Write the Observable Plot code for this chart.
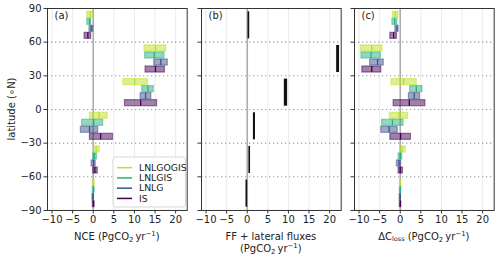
<!DOCTYPE html>
<html>
<head>
<meta charset="utf-8">
<script src="https://cdn.jsdelivr.net/npm/d3@7"></script>
<script src="https://cdn.jsdelivr.net/npm/@observablehq/plot@0.6"></script>
<style>
  html, body { margin: 0; padding: 0; background: white; }
  #chart { position: relative; width: 500px; height: 259px; overflow: hidden; font-family: "DejaVu Sans", sans-serif; }
  #chart svg { position: absolute; top: 0; }
</style>
</head>
<body>
<div id="chart"></div>
<script>
// ---------- data ----------
const models = ["LNLGOGIS", "LNLGIS", "LNLG", "IS"];
const modelColors = ["#bddf26", "#2ab07f", "#3b528b", "#440154"];
const bandLat = [75, 45, 15, -15, -45, -75];      // centre of each 30° latitude band
const xTicks = [-10, -5, 0, 5, 10, 15, 20];
const yTicks = [-90, -60, -30, 0, 30, 60, 90];
const dottedLats = [-60, -30, 0, 30, 60];

// (a) NCE, per model (rows) and band (columns): low / median / high
const nceLow  = [[-1.45, 12.45, 7.3, -0.8, 0.15, -0.1],
                 [-1.45, 12.6, 11.9, -2.7, 0.0, -0.1],
                 [-0.9, 14.8, 11.5, -3.0, -0.4, -0.2],
                 [-2.1, 12.7, 7.7, -0.8, 0.0, -0.1]];
const nceMed  = [[-0.7, 15.1, 10.1, 1.4, 0.7, 0.1],
                 [-0.9, 14.8, 13.3, 0.1, 0.3, 0.1],
                 [-0.5, 16.4, 12.7, -0.9, 0.1, 0.0],
                 [-1.3, 15.1, 11.5, 1.8, 0.4, 0.1]];
const nceHigh = [[0.0, 17.7, 13.3, 3.5, 1.6, 0.25],
                 [-0.5, 17.3, 14.7, 2.4, 0.9, 0.25],
                 [0.0, 18.1, 14.1, 1.2, 0.6, 0.15],
                 [-0.5, 17.4, 15.5, 4.8, 1.1, 0.25]];

// (b) FF + lateral fluxes per band: low / high
const ffLow  = [0.2, 21.7, 9.0, 1.5, 0.4, -0.3];
const ffHigh = [0.6, 22.4, 9.8, 2.0, 0.8, 0.1];

// (c) ΔC_loss
const dcLow  = [[-1.77, -9.55, -2.1, -2.5, 0.0, -0.1],
                [-1.9, -9.4, 2.4, -4.4, -0.4, -0.1],
                [-1.2, -7.3, 2.1, -4.6, -0.8, -0.15],
                [-2.4, -9.2, -1.6, -2.4, -0.4, -0.1]];
const dcMed  = [[-1.2, -6.9, 0.8, -0.3, 0.4, 0.05],
                [-1.35, -7.1, 3.9, -1.9, 0.0, 0.05],
                [-0.8, -5.5, 3.4, -2.7, -0.3, 0.0],
                [-1.6, -6.9, 2.2, 0.1, 0.0, 0.05]];
const dcHigh = [[-0.4, -4.3, 4.0, 1.9, 1.3, 0.2],
                [-0.7, -4.7, 5.4, 0.8, 0.5, 0.2],
                [-0.4, -4.0, 4.8, -0.6, 0.2, 0.15],
                [-0.8, -4.6, 6.1, 2.6, 0.65, 0.2]];

// ---------- layout ----------
const xDomain = [-11.1, 22.8];
const rowStep = 6.25;   // degrees between model rows inside a band
const halfBar = 2.7;    // half bar height in degrees
const plotW = 139.7;
const H = 259;

function rows(low, med, high) {
  const out = [];
  models.forEach((m, i) => bandLat.forEach((lat, j) => {
    out.push({model: m, i, lat, lo: low[i][j], med: med[i][j], hi: high[i][j]});
  }));
  return out;
}
const yc = d => d.lat + (1.5 - d.i) * rowStep;

function modelMarks(data) {
  return [
    Plot.rect(data, {x1: "lo", x2: "hi", y1: d => yc(d) - halfBar, y2: d => yc(d) + halfBar,
      fill: "model", fillOpacity: 0.5, stroke: "model", strokeOpacity: 0.5, strokeWidth: 1.2}),
    Plot.ruleX(data, {x: "med", y1: d => yc(d) - halfBar, y2: d => yc(d) + halfBar,
      stroke: "model", strokeWidth: 1.3})
  ];
}

function makePanel({left, ml, mr, yLabels, marks}) {
  const svg = Plot.plot({
    width: ml + plotW + mr, height: H,
    marginLeft: ml, marginRight: mr, marginTop: 8, marginBottom: 49,
    x: {domain: xDomain},
    y: {domain: [-90, 90]},
    color: {domain: models, range: modelColors},
    style: {fontFamily: "DejaVu Sans", fontSize: "10px", color: "#222", background: "transparent", overflow: "visible"},
    marks: [
      Plot.gridX(xTicks, {stroke: "#e6e6e6", strokeOpacity: 1, strokeWidth: 0.8}),
      Plot.ruleY(dottedLats, {stroke: "#9a9a9a", strokeWidth: 1.1, strokeDasharray: "1.3,2.7"}),
      Plot.ruleX([0], {stroke: "#adadad", strokeWidth: 1.6}),
      ...marks,
      Plot.axisX({ticks: xTicks, tickSize: 3.5, tickPadding: 2, label: null, stroke: "#333"}),
      Plot.axisY({ticks: yTicks, tickSize: 3.5, tickPadding: 2.5, label: null, stroke: "#333",
        tickFormat: yLabels ? undefined : () => ""}),
      Plot.frame({stroke: "#333", strokeWidth: 1})
    ]
  });
  svg.style.left = left + "px";
  document.getElementById("chart").appendChild(svg);
  return svg;
}

// rich label: parts = [[text, "n"|"sub"|"sup"|"tiny"]]
function richLabel(svg, x, y, parts) {
  const t = d3.select(svg).append("text")
    .attr("x", x).attr("y", y).attr("text-anchor", "middle")
    .attr("font-family", "DejaVu Sans").attr("font-size", 10).attr("fill", "#222");
  let cur = 0;
  for (const [txt, kind] of parts) {
    const target = kind === "sub" ? 2 : kind === "tiny" ? 1.5 : kind === "sup" ? -4 : 0;
    const s = t.append("tspan").attr("dy", target - cur).text(txt);
    if (kind !== "n") s.attr("font-size", kind === "tiny" ? 6.5 : 7);
    cur = target;
  }
  return t;
}
const unitParts = [["(PgCO", "n"], ["2", "sub"], ["\u2009yr", "n"], ["\u2212", "sup"], ["1", "sup"], [")", "n"]];

// ---------- panels ----------
const leftA = 0, mlA = 47;
const svgA = makePanel({left: leftA, ml: mlA, mr: 3, yLabels: true, marks: modelMarks(rows(nceLow, nceMed, nceHigh))});

const ffData = bandLat.map((lat, j) => ({lat, lo: ffLow[j], hi: ffHigh[j]}));
const spanHalf = 1.5 * rowStep + halfBar;
const svgB = makePanel({left: 190.6, ml: 10, mr: 5, yLabels: false, marks: [
  Plot.rect(ffData, {x1: "lo", x2: "hi", y1: d => d.lat - spanHalf, y2: d => d.lat + spanHalf, fill: "#111"})
]});

const svgC = makePanel({left: 343.6, ml: 10, mr: 5, yLabels: false, marks: modelMarks(rows(dcLow, dcMed, dcHigh))});

// panel letters
[[svgA, mlA, "(a)"], [svgB, 10, "(b)"], [svgC, 10, "(c)"]].forEach(([s, ml, l]) => {
  d3.select(s).append("text").attr("x", ml + 7.5).attr("y", 19.5).attr("text-anchor", "start")
    .attr("font-family", "DejaVu Sans").attr("font-size", 10).attr("fill", "#222").text(l);
});

// axis titles
richLabel(svgA, mlA + plotW / 2, 240, [["NCE ", "n"], ...unitParts]);
richLabel(svgB, 10 + plotW / 2, 240, [["FF + lateral fluxes", "n"]]);
richLabel(svgB, 10 + plotW / 2, 252.5, unitParts);
richLabel(svgC, 10 + plotW / 2, 240, [["\u0394C", "n"], ["loss", "tiny"], [" ", "n"], ...unitParts]);

// y title
d3.select(svgA).append("text")
  .attr("transform", "translate(11,109) rotate(-90)")
  .attr("text-anchor", "middle").attr("dy", "0.35em")
  .attr("font-family", "DejaVu Sans").attr("font-size", 10).attr("fill", "#222")
  .text("latitude (\u2218N)");

// legend (inside panel a)
const lg = d3.select(svgA).append("g").attr("text-anchor", "start");
lg.append("rect").attr("x", 113).attr("y", 157).attr("width", 72.5).attr("height", 50)
  .attr("rx", 2.5).attr("fill", "white").attr("fill-opacity", 0.85)
  .attr("stroke", "#cccccc").attr("stroke-width", 0.8);
models.forEach((m, i) => {
  const yy = 167.7 + i * 10.25;
  lg.append("line").attr("x1", 117).attr("x2", 132).attr("y1", yy).attr("y2", yy)
    .attr("stroke", modelColors[i]).attr("stroke-width", 1.5);
  lg.append("text").attr("x", 139).attr("y", yy).attr("dy", "0.35em").attr("text-anchor", "start")
    .attr("font-family", "DejaVu Sans").attr("font-size", 9.3).attr("fill", "#222").text(m);
});
</script>
</body>
</html>
